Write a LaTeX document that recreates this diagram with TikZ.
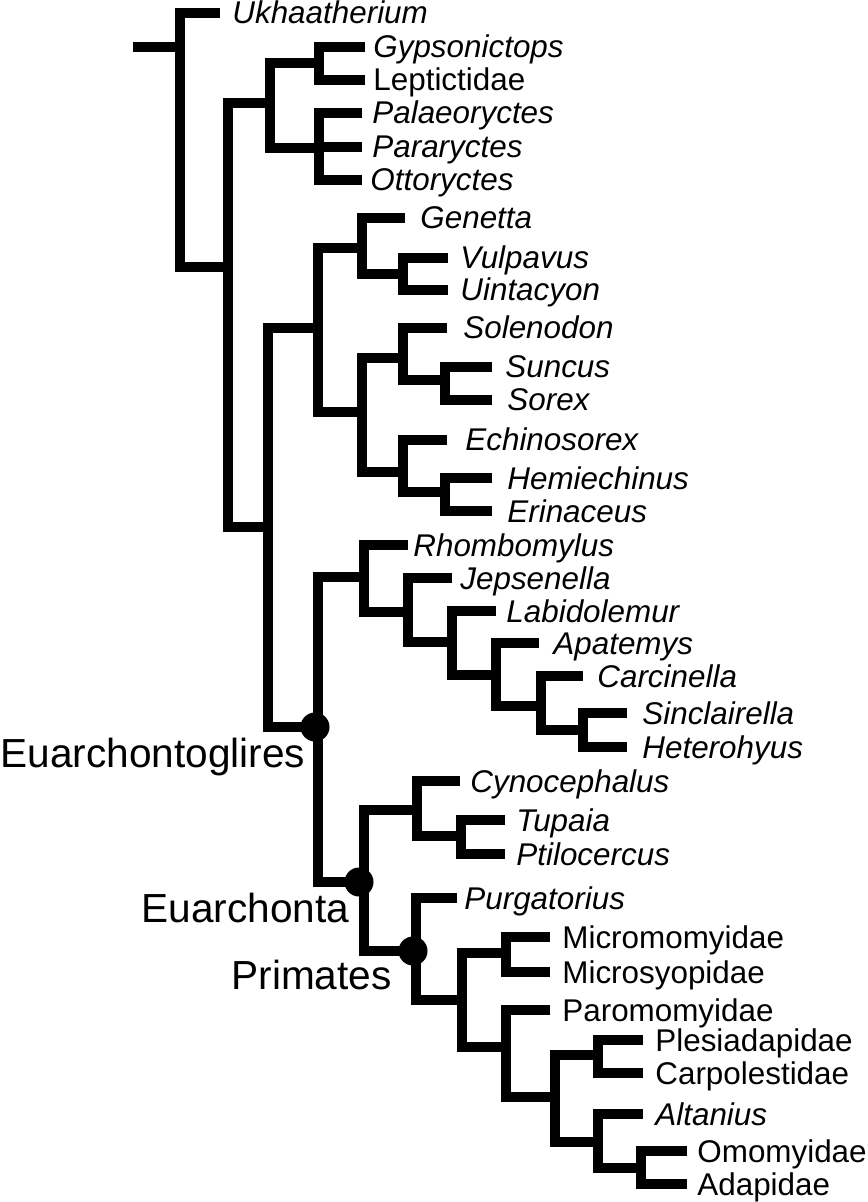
\documentclass[tikz,border=0pt]{standalone}
\usepackage{fontspec}
\setmainfont{Liberation Sans}
\newcommand\leaffont{\fontsize{15.7pt}{18pt}\selectfont}
\newcommand\cladefont{\fontsize{20.3pt}{24pt}\selectfont}
% leaf: name, parent, end x, y, text x, text
\newcommand\leafIt[6]{%
  \coordinate (#1) at (#3,#4);
  \draw[branch] (#1) -| (#2);
  \node[leaflabel] (#1-label) at (#5,#4+11) {\itshape #6};}
\newcommand\leafUp[6]{%
  \coordinate (#1) at (#3,#4);
  \draw[branch] (#1) -| (#2);
  \node[leaflabel] (#1-label) at (#5,#4+11) {#6};}
\begin{document}
\begin{tikzpicture}[x=0.5pt,y=-0.5pt,
  branch/.style={line width=4.75pt,line join=miter,line cap=butt,black},
  leaflabel/.style={anchor=base west,inner sep=0pt,font=\leaffont},
  cladelabel/.style={anchor=base west,inner sep=0pt,font=\cladefont},
  cladedot/.style={circle,fill=black,inner sep=0pt,minimum size=14.5pt}]
\useasboundingbox (0,0) rectangle (867,1202);
% internal nodes
\coordinate (root) at (133,47);
\coordinate (nA) at (180,47);
\coordinate (nB) at (228,267);
\coordinate (nC) at (270,103);
\coordinate (nD) at (319,63);
\coordinate (nE) at (319,148);
\coordinate (nF) at (268,527);
\coordinate (nG) at (318,328);
\coordinate (nH) at (362,248);
\coordinate (nI) at (403,274);
\coordinate (nJ) at (362,412);
\coordinate (nK) at (403,358);
\coordinate (nL) at (445,380);
\coordinate (nM) at (403,472);
\coordinate (nN) at (445,492);
\coordinate (nO) at (318,727);
\coordinate (nP) at (364,577);
\coordinate (nQ) at (408,612);
\coordinate (nR) at (452,642);
\coordinate (nS) at (496,675);
\coordinate (nT) at (541,706);
\coordinate (nU) at (583,730);
\coordinate (nV) at (364,882);
\coordinate (nW) at (417,810);
\coordinate (nX) at (461,836);
\coordinate (nY) at (416,951);
\coordinate (nZ) at (462,1000);
\coordinate (nAA) at (506,953);
\coordinate (nAB) at (506,1047);
\coordinate (nAC) at (555,1097);
\coordinate (nAD) at (598,1055);
\coordinate (nAE) at (598,1142);
\coordinate (nAF) at (641,1168);
% internal branches
\draw[branch] (root) -- (nA);
\draw[branch] (nB) -| (nA);
\draw[branch] (nC) -| (nB);
\draw[branch] (nD) -| (nC);
\draw[branch] (nE) -| (nC);
\draw[branch] (nF) -| (nB);
\draw[branch] (nG) -| (nF);
\draw[branch] (nH) -| (nG);
\draw[branch] (nI) -| (nH);
\draw[branch] (nJ) -| (nG);
\draw[branch] (nK) -| (nJ);
\draw[branch] (nL) -| (nK);
\draw[branch] (nM) -| (nJ);
\draw[branch] (nN) -| (nM);
\draw[branch] (nO) -| (nF);
\draw[branch] (nP) -| (nO);
\draw[branch] (nQ) -| (nP);
\draw[branch] (nR) -| (nQ);
\draw[branch] (nS) -| (nR);
\draw[branch] (nT) -| (nS);
\draw[branch] (nU) -| (nT);
\draw[branch] (nV) -| (nO);
\draw[branch] (nW) -| (nV);
\draw[branch] (nX) -| (nW);
\draw[branch] (nY) -| (nV);
\draw[branch] (nZ) -| (nY);
\draw[branch] (nAA) -| (nZ);
\draw[branch] (nAB) -| (nZ);
\draw[branch] (nAC) -| (nAB);
\draw[branch] (nAD) -| (nAC);
\draw[branch] (nAE) -| (nAC);
\draw[branch] (nAF) -| (nAE);
% leaves
\leafIt{ukh}{nA}{220}{13}{232}{Ukhaatherium}
\leafIt{gyp}{nD}{365}{47}{373}{Gypsonictops}
\leafUp{lep}{nD}{365}{80}{373}{Leptictidae}
\leafIt{pal}{nE}{362}{113}{372}{Palaeoryctes}
\leafIt{par}{nE}{362}{147}{372}{Pararyctes}
\leafIt{ott}{nE}{362}{180}{370}{Ottoryctes}
\leafIt{gen}{nH}{405}{218}{420}{Genetta}
\leafIt{vul}{nI}{448}{258}{460}{Vulpavus}
\leafIt{uin}{nI}{448}{290}{460}{Uintacyon}
\leafIt{sol}{nK}{447}{328}{463}{Solenodon}
\leafIt{sun}{nL}{492}{367}{505}{Suncus}
\leafIt{sor}{nL}{492}{400}{507}{Sorex}
\leafIt{ech}{nM}{447}{440}{465}{Echinosorex}
\leafIt{hem}{nN}{492}{478}{507}{Hemiechinus}
\leafIt{eri}{nN}{492}{511}{507}{Erinaceus}
\leafIt{rho}{nP}{408}{545}{413}{Rhombomylus}
\leafIt{jep}{nQ}{452}{578}{460}{Jepsenella}
\leafIt{lab}{nR}{496}{611}{506}{Labidolemur}
\leafIt{apa}{nS}{539}{643}{553}{Apatemys}
\leafIt{car}{nT}{583}{676}{597}{Carcinella}
\leafIt{sin}{nU}{627}{713}{642}{Sinclairella}
\leafIt{het}{nU}{627}{747}{642}{Heterohyus}
\leafIt{cyn}{nW}{460}{781}{470}{Cynocephalus}
\leafIt{tup}{nX}{505}{820}{516}{Tupaia}
\leafIt{pti}{nX}{505}{854}{516}{Ptilocercus}
\leafIt{pur}{nY}{457}{898}{464}{Purgatorius}
\leafUp{mim}{nAA}{550}{937}{562}{Micromomyidae}
\leafUp{mis}{nAA}{550}{972}{562}{Microsyopidae}
\leafUp{pam}{nAB}{550}{1010}{562}{Paromomyidae}
\leafUp{ple}{nAD}{643}{1040}{655}{Plesiadapidae}
\leafUp{cap}{nAD}{643}{1073}{655}{Carpolestidae}
\leafIt{alt}{nAE}{643}{1114}{655}{Altanius}
\leafUp{omo}{nAF}{687}{1151}{697}{Omomyidae}
\leafUp{ada}{nAF}{687}{1184}{697}{Adapidae}
% clade dots and labels
\node[cladedot] (dotEuarchontoglires) at (315,727) {};
\node[cladedot] (dotEuarchonta) at (359,882) {};
\node[cladedot] (dotPrimates) at (413,951) {};
\node[cladelabel] (lblEuarchontoglires) at (0,767) {Euarchontoglires};
\node[cladelabel] (lblEuarchonta) at (141,922) {Euarchonta};
\node[cladelabel] (lblPrimates) at (231,989) {Primates};
\end{tikzpicture}
\end{document}
